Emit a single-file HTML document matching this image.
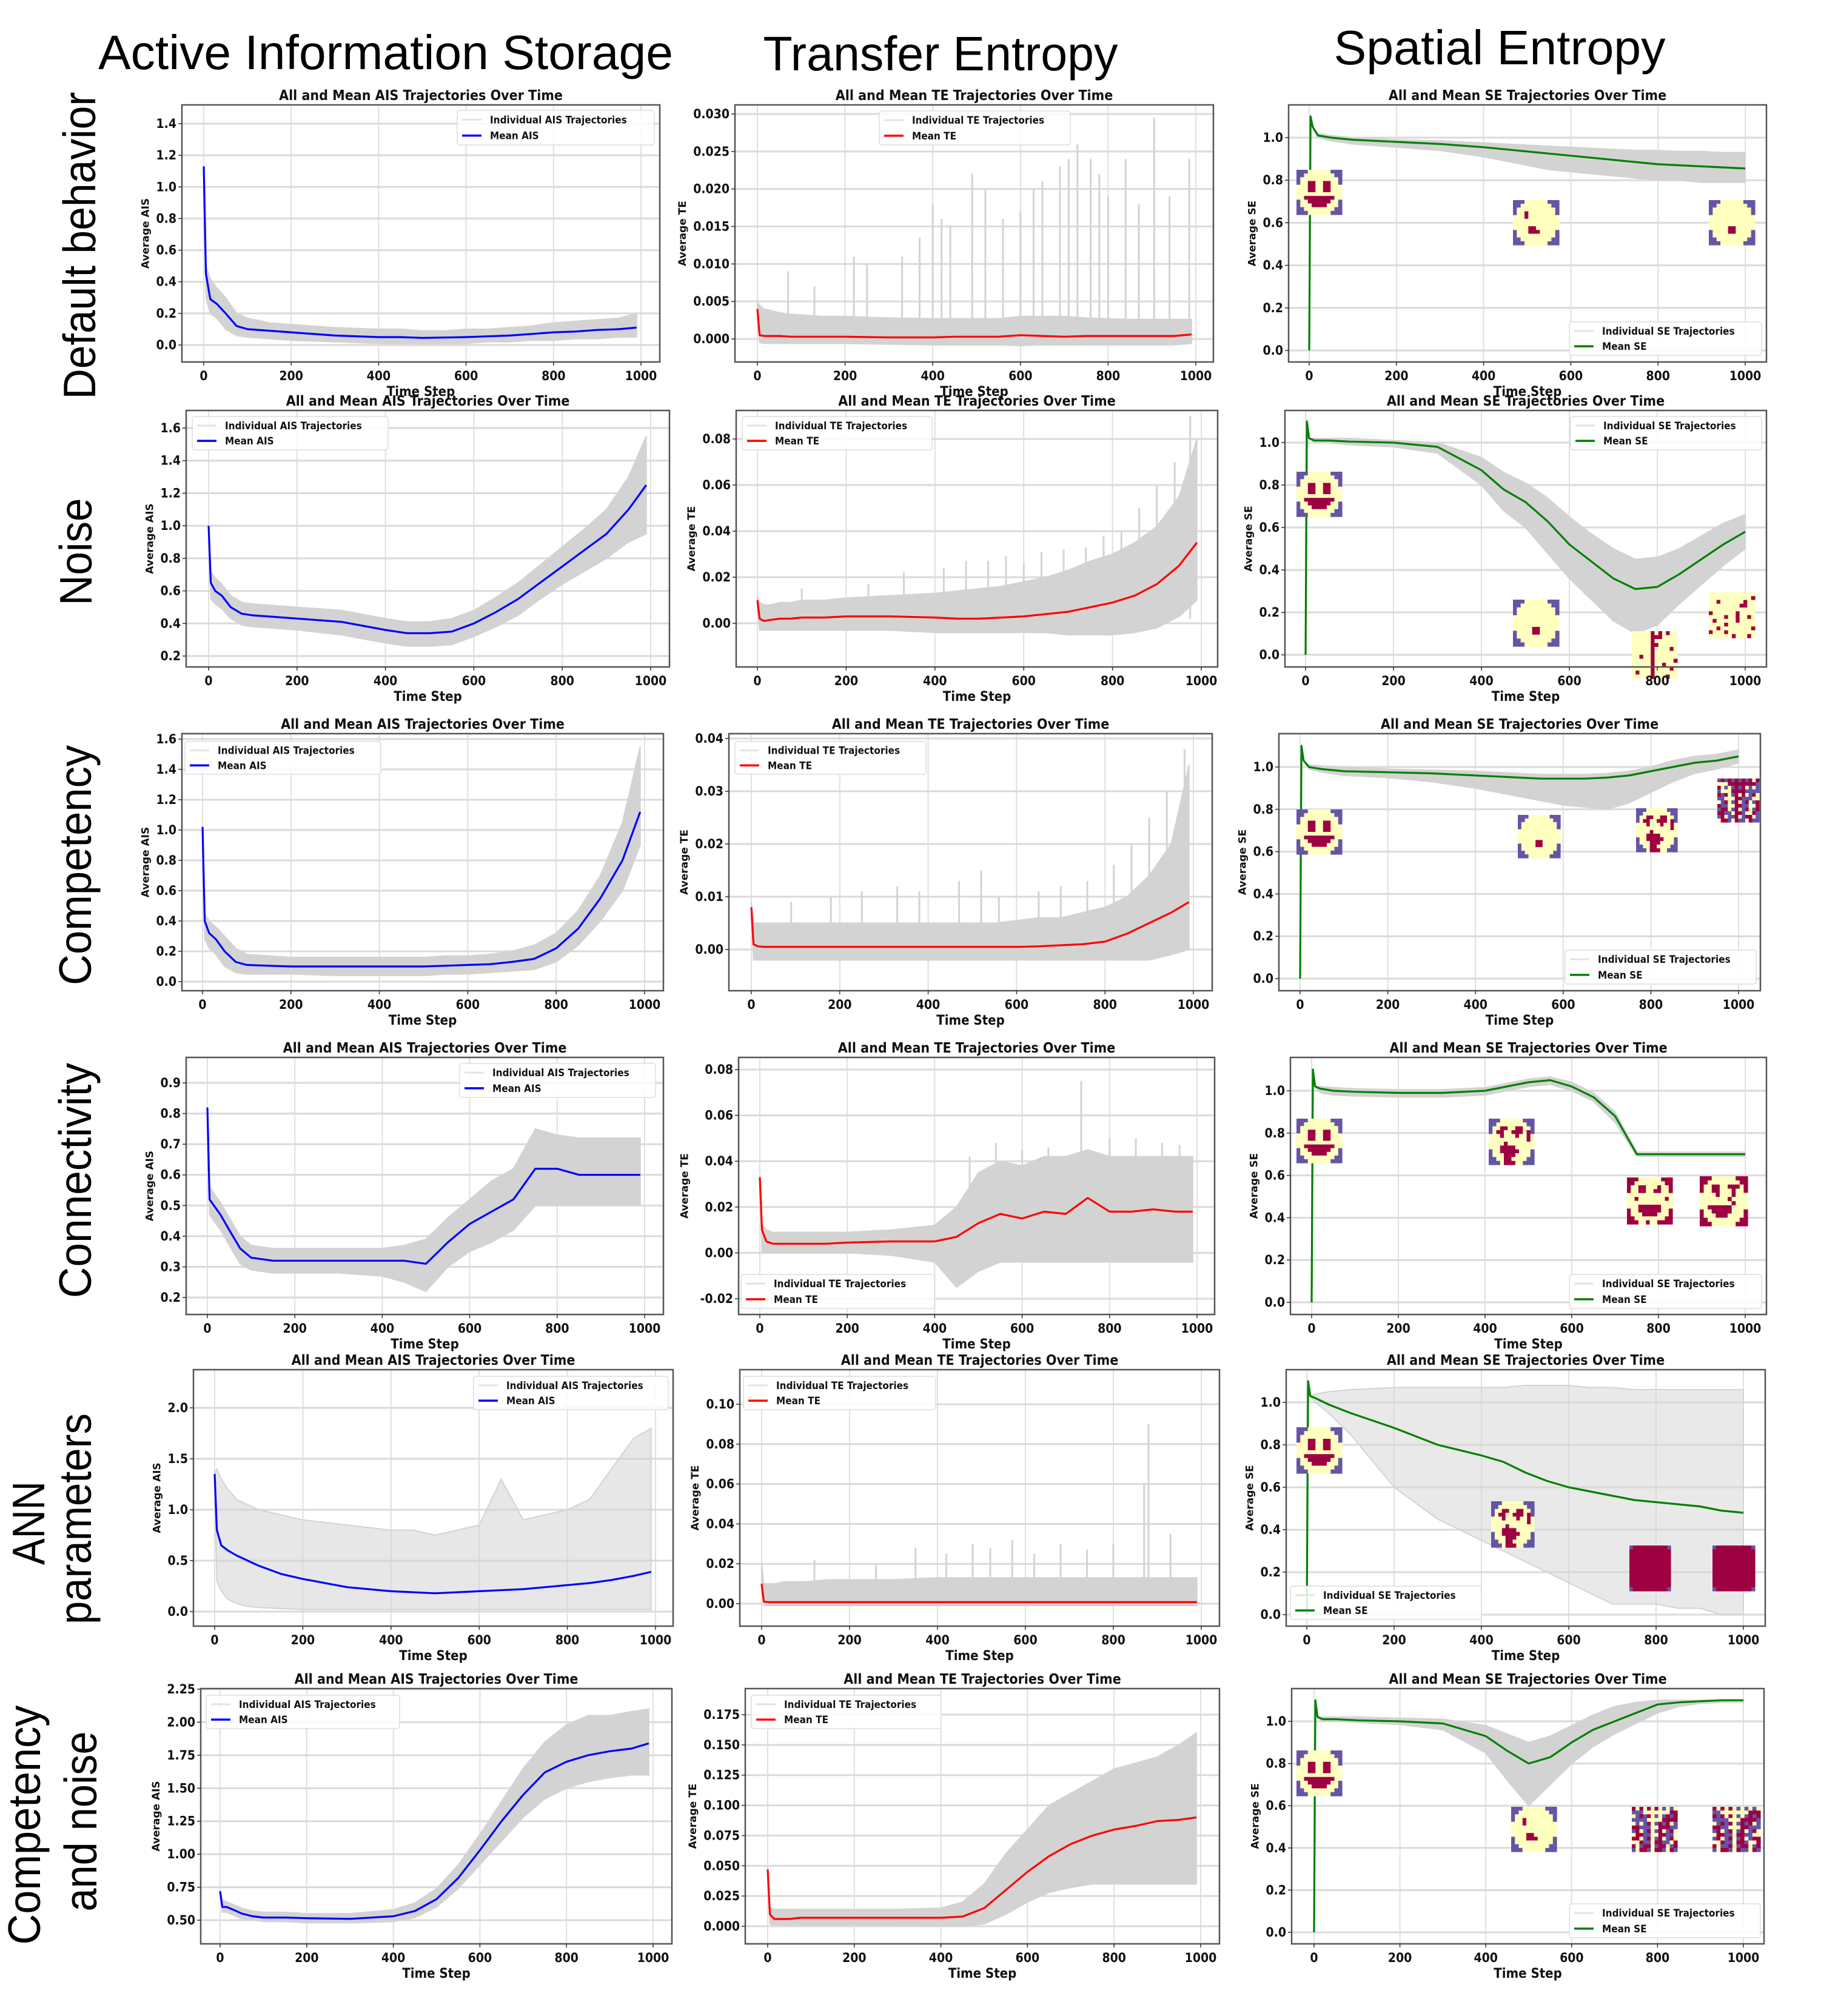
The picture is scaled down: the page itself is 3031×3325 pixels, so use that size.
<!DOCTYPE html>
<html><head><meta charset="utf-8">
<style>
html,body{margin:0;padding:0;background:#fff;}
svg{display:block;}
text{font-family:"DejaVu Sans Condensed","DejaVu Sans","Liberation Sans",sans-serif;}
</style></head>
<body>
<svg id="fig" xmlns="http://www.w3.org/2000/svg" width="3031" height="3325" viewBox="0 0 3031 3325">
<rect x="0" y="0" width="3031" height="3325" fill="#fff"/>
<text x="636" y="114" text-anchor="middle" font-size="80" textLength="948" lengthAdjust="spacingAndGlyphs" style="font-family:'Liberation Sans Narrow','Liberation Sans',sans-serif">Active Information Storage</text>
<text x="1551" y="116" text-anchor="middle" font-size="80" textLength="585" lengthAdjust="spacingAndGlyphs" style="font-family:'Liberation Sans Narrow','Liberation Sans',sans-serif">Transfer Entropy</text>
<text x="2473" y="106" text-anchor="middle" font-size="80" textLength="547" lengthAdjust="spacingAndGlyphs" style="font-family:'Liberation Sans Narrow','Liberation Sans',sans-serif">Spatial Entropy</text>
<g font-size="75" style="font-family:'Liberation Sans',sans-serif">
<text transform="translate(157,405) rotate(-90)" text-anchor="middle" textLength="507" lengthAdjust="spacingAndGlyphs" style="font-family:'Liberation Sans',sans-serif">Default behavior</text>
<text transform="translate(151,910) rotate(-90)" text-anchor="middle" textLength="177" lengthAdjust="spacingAndGlyphs" style="font-family:'Liberation Sans',sans-serif">Noise</text>
<text transform="translate(150,1427) rotate(-90)" text-anchor="middle" textLength="396" lengthAdjust="spacingAndGlyphs" style="font-family:'Liberation Sans',sans-serif">Competency</text>
<text transform="translate(150,1947) rotate(-90)" text-anchor="middle" textLength="388" lengthAdjust="spacingAndGlyphs" style="font-family:'Liberation Sans',sans-serif">Connectivity</text>
<text transform="translate(73,2512) rotate(-90)" text-anchor="middle" textLength="138" lengthAdjust="spacingAndGlyphs" style="font-family:'Liberation Sans',sans-serif">ANN</text>
<text transform="translate(150,2505) rotate(-90)" text-anchor="middle" textLength="348" lengthAdjust="spacingAndGlyphs" style="font-family:'Liberation Sans',sans-serif">parameters</text>
<text transform="translate(66,3010) rotate(-90)" text-anchor="middle" textLength="395" lengthAdjust="spacingAndGlyphs" style="font-family:'Liberation Sans',sans-serif">Competency</text>
<text transform="translate(159,3004) rotate(-90)" text-anchor="middle" textLength="297" lengthAdjust="spacingAndGlyphs" style="font-family:'Liberation Sans',sans-serif">and noise</text>
</g>
<g id="panels"></g>
</svg>
<script>
// ---------- shared time axes ----------
const T_A = [0,5,15,30,50,75,100,150,200,300,400,450,500,550,600,650,700,750,800,850,900,950,990];
const T_S = [0,3,8,20,50,100,200,300,400,450,500,550,600,650,700,750,800,850,900,950,1000];
const xTicks = [0,200,400,600,800,1000];

// ---------- Row 1: default behavior ----------
const ais1Mean = [1.13,0.45,0.29,0.26,0.2,0.12,0.1,0.09,0.08,0.06,0.05,0.05,0.045,0.047,0.05,0.055,0.06,0.07,0.08,0.085,0.095,0.1,0.11];
const ais1Lo   = [1.13,0.3,0.2,0.17,0.1,0.06,0.05,0.04,0.03,0.02,0.01,0.01,0.01,0.01,0.01,0.02,0.02,0.03,0.03,0.04,0.04,0.05,0.05];
const ais1Hi   = [1.13,0.5,0.42,0.36,0.3,0.2,0.17,0.14,0.13,0.11,0.1,0.1,0.09,0.09,0.1,0.1,0.11,0.12,0.14,0.15,0.16,0.17,0.2];
const ais1Ticks = [0.0,0.2,0.4,0.6,0.8,1.0,1.2,1.4];
const te1Mean = [0.004,0.0005,0.0004,0.0004,0.0004,0.0003,0.0003,0.0003,0.0003,0.0002,0.0002,0.0003,0.0003,0.0003,0.0005,0.0004,0.0003,0.0004,0.0004,0.0004,0.0004,0.0004,0.0006];
const te1Lo   = [0.004,-0.0005,-0.0006,-0.0006,-0.0006,-0.0006,-0.0006,-0.0006,-0.0006,-0.0007,-0.0008,-0.0008,-0.0008,-0.0008,-0.0009,-0.0008,-0.0008,-0.0008,-0.0008,-0.0008,-0.0008,-0.0008,-0.0006];
const te1Hi   = [0.005,0.0045,0.004,0.0038,0.0035,0.0033,0.0032,0.003,0.003,0.0028,0.0027,0.0027,0.0027,0.0027,0.003,0.003,0.003,0.0028,0.0027,0.0026,0.0026,0.0026,0.0026];
const te1SpikeT = [70,130,220,250,330,370,400,420,440,490,520,560,600,630,650,690,710,730,760,780,800,840,870,905,940,985];
const te1SpikeV = [0.009,0.007,0.011,0.01,0.011,0.0135,0.018,0.016,0.015,0.022,0.02,0.016,0.017,0.02,0.021,0.023,0.024,0.026,0.024,0.022,0.019,0.024,0.018,0.0295,0.019,0.024];
const te1Ticks = [0.000,0.005,0.010,0.015,0.020,0.025,0.030];
const se1Mean = [0,1.1,1.05,1.01,1.0,0.99,0.98,0.97,0.955,0.945,0.935,0.925,0.915,0.905,0.895,0.885,0.875,0.87,0.865,0.86,0.855];
const se1Lo   = [0,1.1,1.05,1.0,0.985,0.97,0.955,0.94,0.91,0.89,0.87,0.85,0.84,0.83,0.82,0.81,0.8,0.8,0.79,0.79,0.79];
const se1Hi   = [0,1.1,1.05,1.02,1.01,1.0,0.99,0.985,0.975,0.97,0.965,0.96,0.955,0.95,0.945,0.94,0.94,0.935,0.935,0.93,0.93];
const se1Ticks = [0.0,0.2,0.4,0.6,0.8,1.0];

// ---------- Row 2: noise ----------
const ais2Mean = [1.0,0.65,0.6,0.57,0.5,0.46,0.45,0.44,0.43,0.41,0.36,0.34,0.34,0.35,0.4,0.47,0.55,0.65,0.75,0.85,0.95,1.1,1.25];
const ais2Lo   = [1.0,0.55,0.52,0.49,0.43,0.39,0.38,0.37,0.36,0.33,0.28,0.26,0.26,0.27,0.32,0.38,0.45,0.55,0.64,0.72,0.8,0.9,0.95];
const ais2Hi   = [1.0,0.72,0.68,0.64,0.57,0.53,0.52,0.51,0.5,0.48,0.43,0.41,0.41,0.43,0.48,0.56,0.65,0.76,0.87,0.98,1.1,1.3,1.55];
const ais2Ticks = [0.2,0.4,0.6,0.8,1.0,1.2,1.4,1.6];
const te2Mean = [0.01,0.002,0.001,0.0015,0.002,0.002,0.0025,0.0025,0.003,0.003,0.0025,0.002,0.002,0.0025,0.003,0.004,0.005,0.007,0.009,0.012,0.017,0.025,0.035];
const te2Lo   = [0.01,-0.003,-0.003,-0.003,-0.003,-0.003,-0.003,-0.003,-0.003,-0.003,-0.004,-0.004,-0.004,-0.004,-0.004,-0.004,-0.005,-0.005,-0.005,-0.004,-0.002,0.003,0.01];
const te2Hi   = [0.012,0.009,0.008,0.008,0.009,0.009,0.01,0.01,0.011,0.012,0.013,0.014,0.015,0.016,0.018,0.02,0.023,0.027,0.03,0.035,0.042,0.055,0.08];
const te2SpikeT = [100,250,330,420,470,520,560,600,640,690,740,780,820,860,900,940,975];
const te2SpikeV = [0.015,0.017,0.022,0.024,0.027,0.027,0.029,0.026,0.031,0.032,0.033,0.038,0.04,0.05,0.06,0.07,0.09];
const te2Ticks = [0.00,0.02,0.04,0.06,0.08];
const se2Mean = [0,1.1,1.02,1.01,1.01,1.005,1.0,0.98,0.87,0.78,0.72,0.63,0.52,0.44,0.36,0.31,0.32,0.38,0.45,0.52,0.58];
const se2Lo   = [0,1.1,1.02,1.0,1.0,0.99,0.98,0.95,0.8,0.68,0.6,0.48,0.36,0.26,0.16,0.1,0.14,0.24,0.33,0.42,0.5];
const se2Hi   = [0,1.1,1.02,1.02,1.02,1.02,1.01,1.0,0.93,0.86,0.81,0.74,0.65,0.57,0.5,0.45,0.46,0.5,0.56,0.62,0.66];
const se2Ticks = [0.0,0.2,0.4,0.6,0.8,1.0];

// ---------- Row 3: competency ----------
const ais3Mean = [1.02,0.4,0.32,0.28,0.2,0.13,0.11,0.105,0.1,0.1,0.1,0.1,0.1,0.105,0.11,0.115,0.13,0.15,0.22,0.35,0.55,0.8,1.12];
const ais3Lo   = [1.02,0.28,0.22,0.18,0.1,0.06,0.05,0.05,0.05,0.04,0.04,0.04,0.04,0.05,0.05,0.06,0.07,0.08,0.13,0.24,0.4,0.6,0.9];
const ais3Hi   = [1.02,0.45,0.4,0.36,0.3,0.22,0.18,0.17,0.16,0.16,0.16,0.16,0.16,0.17,0.17,0.18,0.2,0.24,0.32,0.47,0.7,1.05,1.55];
const ais3Ticks = [0.0,0.2,0.4,0.6,0.8,1.0,1.2,1.4,1.6];
const te3Mean = [0.008,0.001,0.0006,0.0005,0.0005,0.0005,0.0005,0.0005,0.0005,0.0005,0.0005,0.0005,0.0005,0.0005,0.0005,0.0006,0.0008,0.001,0.0015,0.003,0.005,0.007,0.009];
const te3Lo   = [0.008,-0.002,-0.002,-0.002,-0.002,-0.002,-0.002,-0.002,-0.002,-0.002,-0.002,-0.002,-0.002,-0.002,-0.002,-0.002,-0.002,-0.002,-0.002,-0.002,-0.002,-0.001,0.0];
const te3Hi   = [0.009,0.005,0.005,0.005,0.005,0.005,0.005,0.005,0.005,0.005,0.005,0.005,0.005,0.005,0.0055,0.006,0.006,0.007,0.008,0.01,0.014,0.02,0.035];
const te3SpikeT = [90,180,250,330,380,470,520,560,650,700,760,820,860,900,940,980];
const te3SpikeV = [0.009,0.01,0.011,0.012,0.011,0.013,0.015,0.01,0.011,0.012,0.013,0.016,0.02,0.025,0.03,0.038];
const te3Ticks = [0.00,0.01,0.02,0.03,0.04];
const se3Mean = [0,1.1,1.03,1.0,0.99,0.98,0.975,0.97,0.96,0.955,0.95,0.945,0.945,0.945,0.95,0.96,0.98,1.0,1.02,1.03,1.05];
const se3Lo   = [0,1.1,1.03,0.99,0.975,0.96,0.95,0.93,0.9,0.88,0.86,0.84,0.82,0.81,0.8,0.83,0.88,0.93,0.97,0.99,1.02];
const se3Hi   = [0,1.1,1.03,1.01,1.005,1.0,0.99,0.985,0.98,0.975,0.97,0.965,0.965,0.965,0.97,0.98,1.0,1.03,1.05,1.06,1.08];
const se3Ticks = [0.0,0.2,0.4,0.6,0.8,1.0];

// ---------- Row 4: connectivity ----------
const ais4Mean = [0.82,0.52,0.5,0.47,0.42,0.36,0.33,0.32,0.32,0.32,0.32,0.32,0.31,0.38,0.44,0.48,0.52,0.62,0.62,0.6,0.6,0.6,0.6];
const ais4Lo   = [0.82,0.47,0.45,0.42,0.37,0.31,0.29,0.28,0.28,0.28,0.27,0.25,0.22,0.3,0.35,0.38,0.42,0.5,0.5,0.5,0.5,0.5,0.5];
const ais4Hi   = [0.82,0.56,0.54,0.51,0.46,0.4,0.37,0.36,0.36,0.36,0.36,0.37,0.39,0.46,0.52,0.58,0.62,0.75,0.73,0.72,0.72,0.72,0.72];
const ais4Ticks = [0.2,0.3,0.4,0.5,0.6,0.7,0.8,0.9];
const te4Mean = [0.033,0.01,0.005,0.004,0.004,0.004,0.004,0.004,0.0045,0.005,0.005,0.007,0.013,0.017,0.015,0.018,0.017,0.024,0.018,0.018,0.019,0.018,0.018];
const te4Lo   = [0.033,0.0,0.0,0.0,0.0,0.0,0.0,0.0,0.0,-0.001,-0.004,-0.015,-0.008,-0.004,-0.004,-0.004,-0.004,-0.004,-0.004,-0.004,-0.004,-0.004,-0.004];
const te4Hi   = [0.034,0.012,0.01,0.009,0.009,0.009,0.009,0.009,0.009,0.01,0.012,0.02,0.035,0.04,0.038,0.042,0.042,0.045,0.042,0.042,0.042,0.042,0.042];
const te4SpikeT = [480,540,600,660,735,800,860,920,960];
const te4SpikeV = [0.042,0.048,0.045,0.046,0.075,0.05,0.05,0.048,0.047];
const te4Ticks = [-0.02,0.00,0.02,0.04,0.06,0.08];
const se4Mean = [0,1.1,1.02,1.01,1.0,0.995,0.99,0.99,1.0,1.02,1.04,1.05,1.02,0.97,0.88,0.7,0.7,0.7,0.7,0.7,0.7];
const se4Lo   = [0,1.1,1.02,0.99,0.98,0.975,0.97,0.97,0.98,1.0,1.02,1.03,1.0,0.95,0.85,0.69,0.69,0.69,0.69,0.69,0.69];
const se4Hi   = [0,1.1,1.02,1.02,1.015,1.01,1.005,1.005,1.015,1.035,1.055,1.065,1.04,0.99,0.9,0.71,0.71,0.71,0.71,0.71,0.71];
const se4Ticks = [0.0,0.2,0.4,0.6,0.8,1.0];

// ---------- Row 5: ANN parameters ----------
const ais5Mean = [1.35,0.8,0.65,0.6,0.55,0.5,0.45,0.37,0.32,0.24,0.2,0.19,0.18,0.19,0.2,0.21,0.22,0.24,0.26,0.28,0.31,0.35,0.39];
const ais5Lo   = [1.35,0.3,0.2,0.12,0.08,0.05,0.04,0.03,0.02,0.02,0.02,0.02,0.02,0.02,0.02,0.02,0.02,0.02,0.02,0.02,0.02,0.02,0.02];
const ais5Hi   = [1.35,1.4,1.3,1.2,1.1,1.05,1.0,0.95,0.9,0.85,0.8,0.8,0.75,0.8,0.85,1.3,0.9,0.95,1.0,1.1,1.4,1.7,1.8];
const ais5Ticks = [0.0,0.5,1.0,1.5,2.0];
const te5Mean = [0.01,0.001,0.0008,0.0008,0.0008,0.0008,0.0008,0.0008,0.0008,0.0008,0.0008,0.0008,0.0008,0.0008,0.0008,0.0008,0.0008,0.0008,0.0008,0.0008,0.0008,0.0008,0.0008];
const te5Lo   = [0.01,-0.001,-0.001,-0.001,-0.001,-0.001,-0.001,-0.001,-0.001,-0.001,-0.001,-0.001,-0.001,-0.001,-0.001,-0.001,-0.001,-0.001,-0.001,-0.001,-0.001,-0.001,-0.001];
const te5Hi   = [0.02,0.01,0.01,0.01,0.011,0.011,0.011,0.012,0.012,0.012,0.013,0.013,0.013,0.013,0.013,0.013,0.013,0.013,0.013,0.013,0.013,0.013,0.013];
const te5SpikeT = [120,260,350,420,480,520,570,620,680,740,800,870,880,930];
const te5SpikeV = [0.022,0.02,0.028,0.025,0.03,0.028,0.032,0.025,0.03,0.027,0.03,0.06,0.09,0.035];
const te5Ticks = [0.00,0.02,0.04,0.06,0.08,0.10];
const se5Mean = [0,1.1,1.03,1.02,0.99,0.95,0.88,0.8,0.75,0.72,0.67,0.63,0.6,0.58,0.56,0.54,0.53,0.52,0.51,0.49,0.48];
const se5Lo   = [0,1.1,1.03,1.0,0.95,0.85,0.6,0.45,0.35,0.3,0.25,0.2,0.15,0.1,0.05,0.05,0.05,0.03,0.03,0.0,0.0];
const se5Hi   = [0,1.1,1.03,1.04,1.05,1.06,1.07,1.07,1.07,1.07,1.08,1.08,1.08,1.07,1.07,1.06,1.06,1.06,1.06,1.06,1.06];
const se5Ticks = [0.0,0.2,0.4,0.6,0.8,1.0];

// ---------- Row 6: competency and noise ----------
const ais6Mean = [0.72,0.6,0.6,0.58,0.55,0.53,0.52,0.52,0.515,0.51,0.53,0.57,0.66,0.82,1.03,1.25,1.45,1.62,1.7,1.75,1.78,1.8,1.84];
const ais6Lo   = [0.72,0.56,0.56,0.54,0.51,0.5,0.49,0.49,0.48,0.48,0.49,0.52,0.6,0.74,0.92,1.1,1.28,1.42,1.5,1.55,1.58,1.6,1.6];
const ais6Hi   = [0.72,0.65,0.64,0.62,0.59,0.57,0.56,0.56,0.55,0.55,0.58,0.63,0.74,0.92,1.15,1.4,1.65,1.85,1.98,2.05,2.05,2.08,2.1];
const ais6Ticks = [0.50,0.75,1.00,1.25,1.50,1.75,2.00,2.25];
const te6Mean = [0.047,0.01,0.006,0.006,0.006,0.007,0.007,0.007,0.007,0.007,0.007,0.008,0.015,0.03,0.045,0.058,0.068,0.075,0.08,0.083,0.087,0.088,0.09];
const te6Lo   = [0.047,0.002,0.001,0.001,0.001,0.001,0.001,0.001,0.001,0.001,0.0,0.0,0.002,0.01,0.02,0.028,0.032,0.035,0.035,0.035,0.035,0.035,0.035];
const te6Hi   = [0.05,0.016,0.014,0.014,0.014,0.014,0.014,0.014,0.014,0.014,0.015,0.02,0.035,0.06,0.08,0.1,0.11,0.12,0.13,0.135,0.14,0.15,0.16];
const te6SpikeT = [];
const te6SpikeV = [];
const te6Ticks = [0.000,0.025,0.050,0.075,0.100,0.125,0.150,0.175];
const se6Mean = [0,1.1,1.02,1.01,1.01,1.005,1.0,0.99,0.93,0.86,0.8,0.83,0.9,0.96,1.0,1.04,1.08,1.09,1.095,1.1,1.1];
const se6Lo   = [0,1.1,1.02,1.0,1.0,0.995,0.985,0.96,0.85,0.72,0.6,0.7,0.8,0.88,0.94,0.99,1.04,1.07,1.085,1.09,1.09];
const se6Hi   = [0,1.1,1.02,1.02,1.02,1.02,1.015,1.01,0.98,0.94,0.9,0.93,0.98,1.03,1.07,1.09,1.1,1.1,1.1,1.1,1.1];
const se6Ticks = [0.0,0.2,0.4,0.6,0.8,1.0];

// ---------- layout (pixel geometry, not data) ----------
const NS = 'http://www.w3.org/2000/svg';
const root = document.getElementById('panels');
function el(tag, attrs, parent){
  const e = document.createElementNS(NS, tag);
  for (const k in attrs) e.setAttribute(k, attrs[k]);
  (parent||root).appendChild(e);
  return e;
}
function lin(d0,p0,d1,p1){ return v => p0 + (v-d0)*(p1-p0)/(d1-d0); }

const PAL = {P:'#6555a6', Y:'#ffffbf', R:'#9e0142'};
const FACE_SMILE = ["PPPYYYYYYPPP","PPYYYYYYYYPP","PYYYYYYYYYYP","PYYRRYYRRYYP","YYYRRYYRRYYY","YYYRRYYRRYYY","YYYYYYYYYYYY","YYRRRRRRRRYY","PYYRRRRRRYYP","PYYYRRRRYYYP","PPYYYYYYYYPP","PPPYYYYYYPPP"];
const FACE_DOT = ["PPPYYYYYYPPP","PPYYYYYYYYPP","PYYYYYYYYYYP","PYYRYYYYYYYP","YYYRYYYYYYYY","YYYYYYYYYYYY","YYYYYYYYYYYY","YYYYRRYYYYYY","PYYYRRRYYYYP","PYYYYYYYYYYP","PPYYYYYYYYPP","PPPYYYYYYPPP"];
const FACE_DOT2 = ["PPPYYYYYYPPP","PPYYYYYYYYPP","PYYYYYYYYYYP","PYYYYYYYYYYP","YYYYYYYYYYYY","YYYYYYYYYYYY","YYYYYYYYYYYY","YYYYYRRYYYYY","PYYYYRRYYYYP","PYYYYYYYYYYP","PPYYYYYYYYPP","PPPYYYYYYPPP"];
const FACE_DIST = ["PPPYYYYYYPPP","PPYYYYYYYYPP","PYYRRYYRRYYP","PYRRYYRRRYRP","YYYRYYYRYYRY","YYYYYYYYYYRY","YYYYRYYYYYYY","YYYRRRRYYYYY","PYYRRRRRYYYP","PYYYRRRYYYYP","PPYYRRYYYYPP","PPPYRRRYYPPP"];
const FACE_CRIM = ["RRRYYYYYYRRR","RRYYYYYYYYRR","RYYRRYYYRYYR","RYYRRYYRRYYR","YYYYYYYYYYYY","YYRYYYYYYYRY","YYYYYYYYYYYY","YYYRRRRRRYYY","RYYRRRRRRYYR","RYYYRRRRYYYR","RRYYYYYYYYRR","RRRYYRYYRRRR"];
const FACE_CRIM2 = ["RRRYYYYYYRRR","RRYYYYYYYYRR","RYYRRYYRRRYR","RYYRRYYYRYYR","YYYYRYYYRYYY","YYYYYYYRYYYY","YYYYYYYYRYYY","YYRRRRRRYYYY","RYYRRRRRYYYR","RYYYRRRYYYYR","RRYYYYYYYYRR","RRRYYYYYYRRR"];
const FACE_SOLID = ["PRRRRRRRRRRP","RRRRRRRRRRRR","RRRRRRRRRRRR","RRRRRRRRRRRR","RRRRRRRRRRRR","RRRRRRRRRRRR","RRRRRRRRRRRR","RRRRRRRRRRRR","RRRRRRRRRRRR","RRRRRRRRRRRR","RRRRRRRRRRRR","PRRRRRRRRRRP"];
function genPattern(kind, seed){
  const rows=[];
  for(let i=0;i<12;i++){let s='';for(let j=0;j<12;j++){
    const h=((i*37+j*57+seed*13+i*j*11)%23);
    if(kind==='noise') s += h<8?'R':(h<15?'Y':'P');
    else s += h<3?'R':'Y';
  }rows.push(s);}
  return rows;
}
function drawFace(g, x, y, w, h, pat, name){
  const fg = el('g', {}, g);
  
  
  const cw=w/12, ch=h/12;
  for(let i=0;i<12;i++)for(let j=0;j<12;j++){
    el('rect',{x:(x+j*cw).toFixed(2),y:(y+i*ch).toFixed(2),width:(cw+0.6).toFixed(2),height:(ch+0.6).toFixed(2),fill:PAL[pat[i][j]]},fg);
  }
}

const panels = [
 {n:'ais-default', f:[300,173,1088,597], xp:[336,1057], yt:ais1Ticks, dec:1, t:T_A, m:ais1Mean, lo:ais1Lo, hi:ais1Hi, c:'#0000ff', q:'AIS', leg:[754,182,1079,239]},
 {n:'te-default', f:[1212,173,2001,597], xp:[1249,1972], yt:te1Ticks, dec:3, t:T_A, m:te1Mean, lo:te1Lo, hi:te1Hi, st:te1SpikeT, sv:te1SpikeV, c:'#ff0000', q:'TE', leg:[1450,183,1765,239]},
 {n:'se-default', f:[2125,173,2913,597], xp:[2159,2878], yt:se1Ticks, dec:1, t:T_S, m:se1Mean, lo:se1Lo, hi:se1Hi, c:'#008000', q:'SE', leg:[2588,531,2905,586],
   faces:[[2138,280,75,74,FACE_SMILE],[2495,330,76,74,FACE_DOT],[2818,330,76,74,FACE_DOT2]]},
 {n:'ais-noise', f:[307,677,1104,1100], xp:[344,1073], yt:ais2Ticks, dec:1, t:T_A, m:ais2Mean, lo:ais2Lo, hi:ais2Hi, c:'#0000ff', q:'AIS', leg:[317,687,640,742]},
 {n:'te-noise', f:[1214,677,2008,1100], xp:[1249,1981], yt:te2Ticks, dec:2, t:T_A, m:te2Mean, lo:te2Lo, hi:te2Hi, st:te2SpikeT, sv:te2SpikeV, c:'#ff0000', q:'TE', leg:[1224,687,1537,742]},
 {n:'se-noise', f:[2119,677,2913,1100], xp:[2153,2878], yt:se2Ticks, dec:1, t:T_S, m:se2Mean, lo:se2Lo, hi:se2Hi, c:'#008000', q:'SE', leg:[2590,687,2905,742],
   faces:[[2138,778,75,74,FACE_SMILE],[2495,989,76,77,FACE_DOT2],[2691,1041,75,78,genPattern('sparse',3)],[2818,977,76,75,genPattern('sparse',7)]]},
 {n:'ais-competency', f:[300,1210,1094,1634], xp:[334,1063], yt:ais3Ticks, dec:1, t:T_A, m:ais3Mean, lo:ais3Lo, hi:ais3Hi, c:'#0000ff', q:'AIS', leg:[305,1223,628,1277]},
 {n:'te-competency', f:[1202,1210,1999,1634], xp:[1239,1968], yt:te3Ticks, dec:2, t:T_A, m:te3Mean, lo:te3Lo, hi:te3Hi, st:te3SpikeT, sv:te3SpikeV, c:'#ff0000', q:'TE', leg:[1212,1223,1527,1277]},
 {n:'se-competency', f:[2109,1210,2903,1634], xp:[2144,2867], yt:se3Ticks, dec:1, t:T_S, m:se3Mean, lo:se3Lo, hi:se3Hi, c:'#008000', q:'SE', leg:[2581,1567,2896,1623],
   faces:[[2138,1335,75,74,FACE_SMILE],[2503,1344,70,71,FACE_DOT2],[2698,1333,68,72,FACE_DIST],[2832,1284,69,72,genPattern('noise',5)]]},
 {n:'ais-connectivity', f:[307,1744,1094,2168], xp:[342,1063], yt:ais4Ticks, dec:1, t:T_A, m:ais4Mean, lo:ais4Lo, hi:ais4Hi, c:'#0000ff', q:'AIS', leg:[758,1754,1081,1810]},
 {n:'te-connectivity', f:[1218,1744,2003,2168], xp:[1253,1974], yt:te4Ticks, dec:2, t:T_A, m:te4Mean, lo:te4Lo, hi:te4Hi, st:te4SpikeT, sv:te4SpikeV, c:'#ff0000', q:'TE', leg:[1222,2102,1541,2158]},
 {n:'se-connectivity', f:[2128,1744,2913,2168], xp:[2163,2878], yt:se4Ticks, dec:1, t:T_S, m:se4Mean, lo:se4Lo, hi:se4Hi, c:'#008000', q:'SE', leg:[2588,2102,2905,2158],
   faces:[[2138,1845,75,73,FACE_SMILE],[2455,1845,75,76,FACE_DIST],[2683,1942,75,77,FACE_CRIM],[2803,1940,79,82,FACE_CRIM2]]},
 {n:'ais-ann', f:[319,2259,1110,2682], xp:[354,1081], yt:ais5Ticks, dec:1, t:T_A, m:ais5Mean, lo:ais5Lo, hi:ais5Hi, c:'#0000ff', q:'AIS', leg:[781,2270,1102,2325], op:0.55},
 {n:'te-ann', f:[1220,2259,2011,2682], xp:[1256,1981], yt:te5Ticks, dec:2, t:T_A, m:te5Mean, lo:te5Lo, hi:te5Hi, st:te5SpikeT, sv:te5SpikeV, c:'#ff0000', q:'TE', leg:[1226,2270,1543,2325]},
 {n:'se-ann', f:[2121,2259,2911,2682], xp:[2155,2875], yt:se5Ticks, dec:1, t:T_S, m:se5Mean, lo:se5Lo, hi:se5Hi, c:'#008000', q:'SE', leg:[2128,2616,2443,2671], op:0.5,
   faces:[[2138,2354,75,76,FACE_SMILE],[2459,2476,71,76,FACE_DIST],[2687,2549,68,75,FACE_SOLID],[2824,2549,70,75,FACE_SOLID]]},
 {n:'ais-competency-noise', f:[331,2785,1108,3206], xp:[363,1077], yt:ais6Ticks, dec:2, t:T_A, m:ais6Mean, lo:ais6Lo, hi:ais6Hi, c:'#0000ff', q:'AIS', leg:[340,2796,659,2851]},
 {n:'te-competency-noise', f:[1229,2785,2011,3206], xp:[1266,1980], yt:te6Ticks, dec:3, t:T_A, m:te6Mean, lo:te6Lo, hi:te6Hi, st:te6SpikeT, sv:te6SpikeV, c:'#ff0000', q:'TE', leg:[1239,2796,1552,2851]},
 {n:'se-competency-noise', f:[2130,2785,2909,3206], xp:[2167,2875], yt:se6Ticks, dec:1, t:T_S, m:se6Mean, lo:se6Lo, hi:se6Hi, c:'#008000', q:'SE', leg:[2588,3140,2903,3196],
   faces:[[2138,2887,75,75,FACE_SMILE],[2492,2980,75,74,FACE_DOT],[2691,2980,75,74,genPattern('noise',2)],[2824,2980,79,74,genPattern('noise',9)]]}
];
const yAnchors = [[569,204],[559,188],[578,227],[1082,706],[1028,724],[1080,730],[1619,1219],[1566,1218],[1614,1265],[2140,1786],[2142,1764],[2148,1799],[2658,2322],[2645,2316],[2663,2313],[3167,2786],[3177,2828],[3187,2839]];

function labelWidth(s){ let w=0; for(const ch of s){ w += ch==='.'?7.2:(ch==='-'?15.8:13.2);} return w; }
const CF = "'DejaVu Sans Condensed','DejaVu Sans',sans-serif";

panels.forEach((p, idx) => {
  const [x0,y0,x1,y1] = p.f;
  const g = el('g', {});
  
  
  const sx = lin(0, p.xp[0], 1000, p.xp[1]);
  const sy = lin(p.yt[0], yAnchors[idx][0], p.yt[p.yt.length-1], yAnchors[idx][1]);
  const cid = 'clip' + idx;
  const cp = el('clipPath', {id:cid}, g);
  el('rect', {x:x0, y:y0, width:x1-x0, height:y1-y0}, cp);
  xTicks.forEach(v => {
    const gl = el('line', {x1:sx(v), x2:sx(v), y1:y0, y2:y1, stroke:'#e0e0e0', 'stroke-width':2}, g);
    
    
  });
  p.yt.forEach(v => {
    const gl = el('line', {x1:x0, x2:x1, y1:sy(v), y2:sy(v), stroke:'#dadada', 'stroke-width':3}, g);
    
    
  });
  const plot = el('g', {'clip-path':'url(#'+cid+')'}, g);
  let pts = p.t.map((t,i)=>sx(t).toFixed(1)+','+sy(p.hi[i]).toFixed(1));
  pts = pts.concat(p.t.map((t,i)=>sx(t).toFixed(1)+','+sy(p.lo[i]).toFixed(1)).reverse());
  const band = el('polygon', {points:pts.join(' '), fill:'#d3d3d3', 'fill-opacity':p.op||1, stroke:'#d3d3d3', 'stroke-width':2}, plot);
  
  
  if (p.st) {
    p.st.forEach((t,i) => {
      const sp = el('line', {x1:sx(t), x2:sx(t), y1:sy(0.002), y2:sy(p.sv[i]), stroke:'#d3d3d3', 'stroke-width':3}, plot);
      
      
    });
  }
  const mpts = p.t.map((t,i)=>sx(t).toFixed(1)+','+sy(p.m[i]).toFixed(1)).join(' ');
  const ml = el('polyline', {points:mpts, fill:'none', stroke:p.c, 'stroke-width':3.2, 'stroke-linejoin':'round'}, plot);
  
  
  (p.faces||[]).forEach((fc,k) => drawFace(g, fc[0], fc[1], fc[2], fc[3], fc[4], 'pattern-snapshot-' + (k+1)));
  const fr = el('rect', {x:x0, y:y0, width:x1-x0, height:y1-y0, fill:'none', stroke:'#555', 'stroke-width':2.5}, g);
  
  
  xTicks.forEach(v => {
    el('line', {x1:sx(v), x2:sx(v), y1:y1, y2:y1+6, stroke:'#333', 'stroke-width':1.5}, g);
    const tl = el('text', {x:sx(v), y:y1+30, 'text-anchor':'middle', 'font-size':21, 'font-weight':'bold', fill:'#111', style:'font-family:'+CF}, g);
    
    
    tl.textContent = String(v);
  });
  let maxW = 0;
  p.yt.forEach(v => {
    const s = v.toFixed(p.dec);
    maxW = Math.max(maxW, labelWidth(s));
    el('line', {x1:x0-6, x2:x0, y1:sy(v), y2:sy(v), stroke:'#333', 'stroke-width':1.5}, g);
    const tl = el('text', {x:x0-9, y:sy(v)+7, 'text-anchor':'end', 'font-size':21, 'font-weight':'bold', fill:'#111', style:'font-family:'+CF}, g);
    
    
    tl.textContent = s;
  });
  const xl = el('text', {x:(x0+x1)/2, y:y1+56, 'text-anchor':'middle', 'font-size':22, 'font-weight':'bold', fill:'#111', style:'font-family:'+CF}, g);
  
  
  xl.textContent = 'Time Step';
  const ylx = x0 - 9 - maxW - 12;
  const yl = el('text', {transform:'translate('+ylx+','+((y0+y1)/2)+') rotate(-90)', 'text-anchor':'middle', 'font-size':17, 'font-weight':'bold', fill:'#111', style:"font-family:'DejaVu Sans',sans-serif"}, g);
  
  
  yl.textContent = 'Average ' + p.q;
  const tt = el('text', {x:(x0+x1)/2, y:y0-8, 'text-anchor':'middle', 'font-size':23, 'font-weight':'bold', fill:'#111', style:'font-family:'+CF}, g);
  
  
  tt.textContent = 'All and Mean ' + p.q + ' Trajectories Over Time';
  const [lx0,ly0,lx1,ly1] = p.leg;
  const lg = el('g', {}, g);
  
  
  el('rect', {x:lx0, y:ly0, width:lx1-lx0, height:ly1-ly0, rx:4, fill:'#fff', 'fill-opacity':0.85, stroke:'#dddddd', 'stroke-width':1.5}, lg);
  const r1 = ly0 + (ly1-ly0)*0.27, r2 = ly0 + (ly1-ly0)*0.73;
  el('line', {x1:lx0+8, x2:lx0+40, y1:r1, y2:r1, stroke:'#e3e3e3', 'stroke-width':3}, lg);
  el('line', {x1:lx0+8, x2:lx0+40, y1:r2, y2:r2, stroke:p.c, 'stroke-width':3.5}, lg);
  const e1 = el('text', {x:lx0+54, y:r1+6, 'font-size':17, 'font-weight':'bold', fill:'#111', style:'font-family:'+CF}, lg);
  
  
  e1.textContent = 'Individual ' + p.q + ' Trajectories';
  const e2 = el('text', {x:lx0+54, y:r2+6, 'font-size':17, 'font-weight':'bold', fill:'#111', style:'font-family:'+CF}, lg);
  
  
  e2.textContent = 'Mean ' + p.q;
});
</script>
</body></html>
